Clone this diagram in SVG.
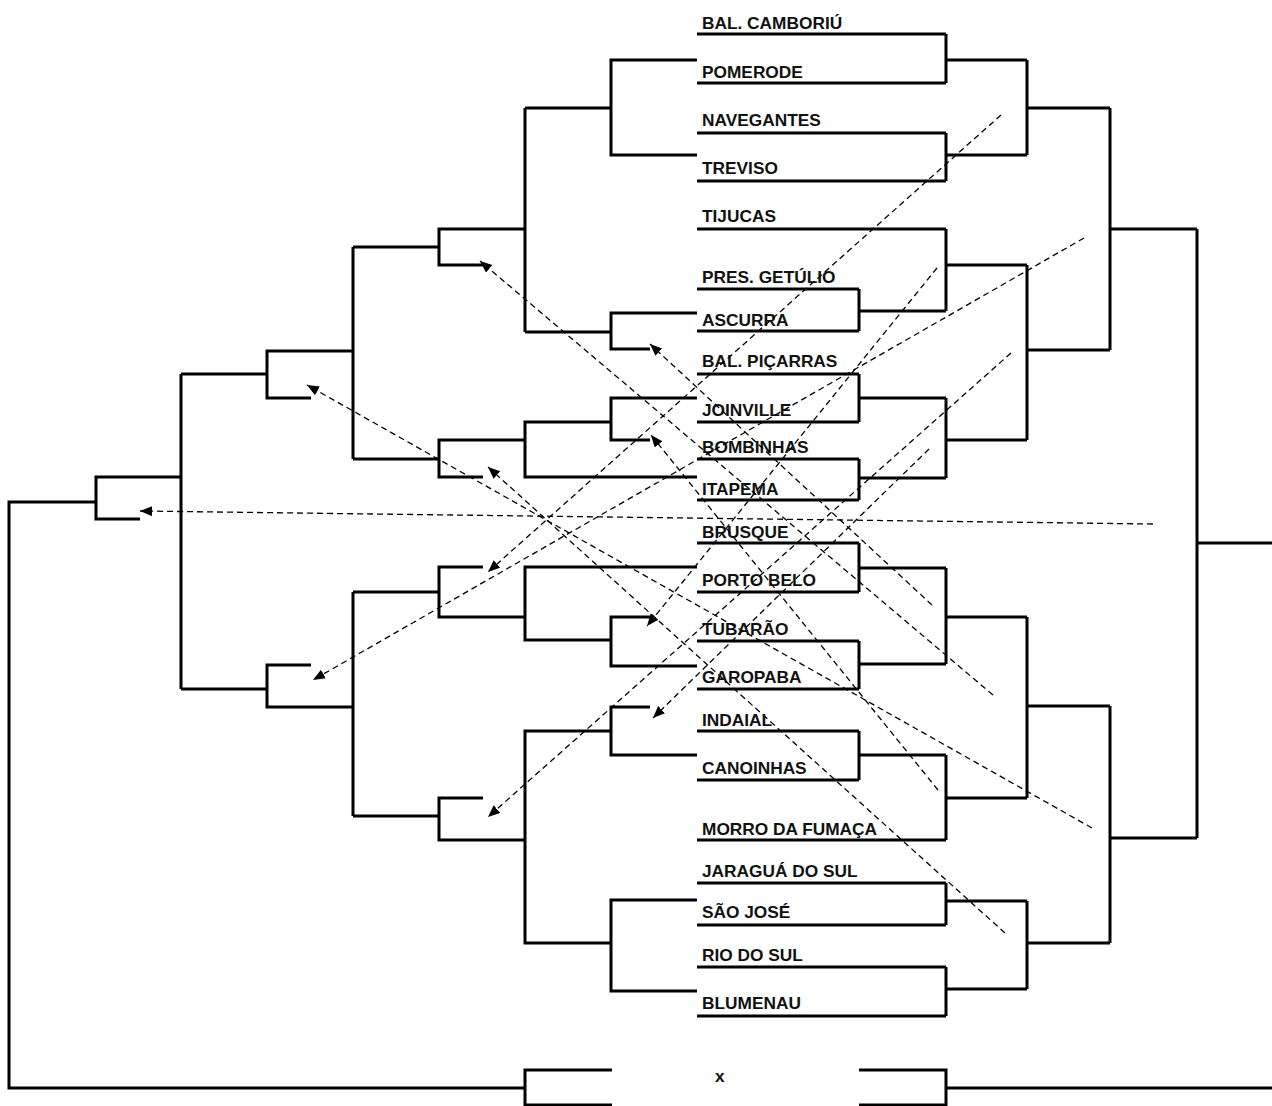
<svg xmlns="http://www.w3.org/2000/svg" width="1272" height="1106" viewBox="0 0 1272 1106">
<style>
.t{font-family:"Liberation Sans",Arial,sans-serif;font-weight:bold;font-size:17.3px;fill:#111}
.b{fill:none;stroke:#000;stroke-width:3}
.d{fill:none;stroke:#000;stroke-width:1.3;stroke-dasharray:6 4;marker-end:url(#ah)}
</style>
<defs>
<marker id="ah" markerUnits="userSpaceOnUse" markerWidth="13" markerHeight="11" refX="12" refY="5" orient="auto">
<path d="M0,0 L12,5 L0,10 z" fill="#000"/>
</marker>
</defs>
<rect width="1272" height="1106" fill="#fff"/>
<g id="teams">
<g id="t1"><text class="t" x="702" y="29">BAL. CAMBORIÚ</text><path class="b" d="M697,34 H946"/></g>
<g id="t2"><text class="t" x="702" y="78">POMERODE</text><path class="b" d="M697,83 H946"/></g>
<g id="t3"><text class="t" x="702" y="126">NAVEGANTES</text><path class="b" d="M697,133 H946"/></g>
<g id="t4"><text class="t" x="702" y="174">TREVISO</text><path class="b" d="M697,181 H946"/></g>
<g id="t5"><text class="t" x="702" y="222">TIJUCAS</text><path class="b" d="M697,229 H946"/></g>
<g id="t6"><text class="t" x="702" y="283">PRES. GETÚLIO</text><path class="b" d="M697,289 H859"/></g>
<g id="t7"><text class="t" x="702" y="326">ASCURRA</text><path class="b" d="M697,331 H859"/></g>
<g id="t8"><text class="t" x="702" y="367">BAL. PIÇARRAS</text><path class="b" d="M697,374 H859"/></g>
<g id="t9"><text class="t" x="702" y="416">JOINVILLE</text><path class="b" d="M697,422 H859"/></g>
<g id="t10"><text class="t" x="702" y="453">BOMBINHAS</text><path class="b" d="M697,459 H859"/></g>
<g id="t11"><text class="t" x="702" y="495">ITAPEMA</text><path class="b" d="M697,500 H859"/></g>
<g id="t12"><text class="t" x="702" y="538">BRUSQUE</text><path class="b" d="M697,543 H859"/></g>
<g id="t13"><text class="t" x="702" y="586">PORTO BELO</text><path class="b" d="M697,592 H859"/></g>
<g id="t14"><text class="t" x="702" y="635">TUBARÃO</text><path class="b" d="M697,641 H859"/></g>
<g id="t15"><text class="t" x="702" y="683">GAROPABA</text><path class="b" d="M697,689 H859"/></g>
<g id="t16"><text class="t" x="702" y="726">INDAIAL</text><path class="b" d="M697,731 H859"/></g>
<g id="t17"><text class="t" x="702" y="774">CANOINHAS</text><path class="b" d="M697,780 H859"/></g>
<g id="t18"><text class="t" x="702" y="835">MORRO DA FUMAÇA</text><path class="b" d="M697,840 H946"/></g>
<g id="t19"><text class="t" x="702" y="877">JARAGUÁ DO SUL</text><path class="b" d="M697,883 H946"/></g>
<g id="t20"><text class="t" x="702" y="918">SÃO JOSÉ</text><path class="b" d="M697,925 H946"/></g>
<g id="t21"><text class="t" x="702" y="961">RIO DO SUL</text><path class="b" d="M697,967 H946"/></g>
<g id="t22"><text class="t" x="702" y="1009">BLUMENAU</text><path class="b" d="M697,1016 H946"/></g>
<g id="final"><text class="t" x="715" y="1082">x</text></g>
</g>
<g id="connectors">
<path class="b" d="M859,289 V331 M859,311 H946 M859,374 V422 M859,398 H946 M859,459 V500 M859,478 H946 M859,543 V592 M859,568 H946 M859,641 V689 M859,664 H946 M859,731 V780 M859,755 H946"/>
<path class="b" d="M946,34 V83 M946,60 H1027 M946,133 V181 M946,155 H1027 M946,229 V311 M946,265 H1027 M946,398 V478 M946,440 H1027 M946,568 V664 M946,617 H1027 M946,755 V840 M946,798 H1027 M946,883 V925 M946,901 H1027 M946,967 V1016 M946,989 H1027"/>
<path class="b" d="M1027,60 V155 M1027,108 H1110 M1027,265 V440 M1027,350 H1110 M1027,617 V798 M1027,706 H1110 M1027,901 V989 M1027,943 H1110"/>
<path class="b" d="M1110,108 V350 M1110,229 H1197 M1110,706 V943 M1110,838 H1197 M1197,229 V838 M1197,543 H1272"/>
<path class="b" d="M859,1070 H946 V1105 H859 M946,1088 H1272"/>
<path class="b" d="M697,60 H611 V155 H697 M611,108 H525 M697,313 H611 V349 H650 M611,332 H525 M697,398 H611 V440 H650 M611,422 H525 V477 H697 M697,567 H525 V640 H611 M650,617 H611 V666 H697 M650,707 H611 V755 H697 M611,731 H525 V943 H611 M697,900 H611 V991 H697"/>
<path class="b" d="M525,108 V332 M525,229 H439 V265 H483 M439,247 H353 M525,440 H439 V477 H483 M439,459 H353 M483,567 H439 V617 H525 M439,592 H353 M483,798 H439 V840 H525 M439,816 H353"/>
<path class="b" d="M353,247 V459 M353,351 H267 V398 H311 M267,374 H181 M353,592 V816 M353,707 H267 V665 H311 M267,689 H181 M181,374 V689 M181,477 H96 V519 H140 M96,502 H9 V1088 H525 M612,1070 H525 V1105 H612"/>
<path class="d" d="M1153,524 L140,511"/>
<path class="d" d="M1001,115 L488,572"/>
<path class="d" d="M1084,238 L313,680"/>
<path class="d" d="M937,268 L647,626"/>
<path class="d" d="M1011,353 L488,817"/>
<path class="d" d="M929,449 L653,718"/>
<path class="d" d="M1092,828 L307,385"/>
<path class="d" d="M1005,933 L488,467"/>
<path class="d" d="M938,790 L651,435"/>
<path class="d" d="M932,605 L650,344"/>
<path class="d" d="M993,695 L480,261"/>
</g>
</svg>
